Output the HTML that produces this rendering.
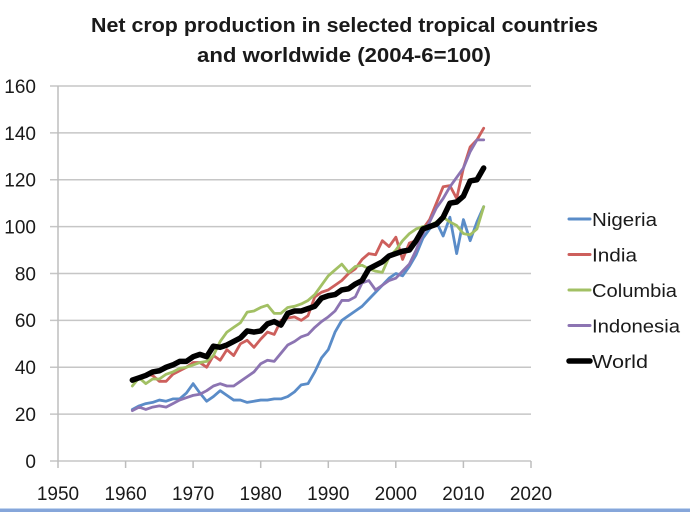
<!DOCTYPE html>
<html>
<head>
<meta charset="utf-8">
<style>
html,body{margin:0;padding:0;background:#fff;}
svg{display:block;}
text{font-family:"Liberation Sans",Arial,sans-serif;fill:#1a1a1a;}
</style>
</head>
<body>
<svg width="690" height="512" viewBox="0 0 690 512" xmlns="http://www.w3.org/2000/svg">
<rect width="690" height="512" fill="#fff"/>
<!-- title -->
<text x="91" y="32" font-size="20" font-weight="bold" textLength="507" lengthAdjust="spacingAndGlyphs">Net crop production in selected tropical countries</text>
<text x="197" y="62" font-size="20" font-weight="bold" textLength="294" lengthAdjust="spacingAndGlyphs">and worldwide (2004-6=100)</text>

<!-- gridlines -->
<g stroke="#c6c6c6" stroke-width="1.5">
<line x1="50" y1="86" x2="531" y2="86"/>
<line x1="50" y1="132.9" x2="531" y2="132.9"/>
<line x1="50" y1="179.75" x2="531" y2="179.75"/>
<line x1="50" y1="226.6" x2="531" y2="226.6"/>
<line x1="50" y1="273.5" x2="531" y2="273.5"/>
<line x1="50" y1="320.4" x2="531" y2="320.4"/>
<line x1="50" y1="367.25" x2="531" y2="367.25"/>
<line x1="50" y1="414.1" x2="531" y2="414.1"/>
<line x1="50" y1="461" x2="531" y2="461"/>
</g>
<g stroke="#bdbdbd" stroke-width="1.5">
<line x1="58" y1="86" x2="58" y2="461"/>
<line x1="58" y1="461" x2="58" y2="468"/>
<line x1="125.6" y1="461" x2="125.6" y2="468"/>
<line x1="193.1" y1="461" x2="193.1" y2="468"/>
<line x1="260.7" y1="461" x2="260.7" y2="468"/>
<line x1="328.3" y1="461" x2="328.3" y2="468"/>
<line x1="395.8" y1="461" x2="395.8" y2="468"/>
<line x1="463.4" y1="461" x2="463.4" y2="468"/>
<line x1="531" y1="461" x2="531" y2="468"/>
</g>

<!-- y labels -->
<g font-size="19" text-anchor="end">
<text x="36" y="93">160</text>
<text x="36" y="140">140</text>
<text x="36" y="186.5">120</text>
<text x="36" y="233.5">100</text>
<text x="36" y="280.5">80</text>
<text x="36" y="327">60</text>
<text x="36" y="374">40</text>
<text x="36" y="421">20</text>
<text x="36" y="468">0</text>
</g>
<!-- x labels -->
<g font-size="19" text-anchor="middle">
<text x="58" y="500">1950</text>
<text x="125.6" y="500">1960</text>
<text x="193.1" y="500">1970</text>
<text x="260.7" y="500">1980</text>
<text x="328.3" y="500">1990</text>
<text x="395.8" y="500">2000</text>
<text x="463.4" y="500">2010</text>
<text x="531" y="500">2020</text>
</g>

<!-- series -->
<g transform="translate(58,461) scale(6.757,-2.34375) translate(-1950,0)" fill="none" stroke-linejoin="round" stroke-linecap="round">
<polyline vector-effect="non-scaling-stroke" stroke="#5a8cc8" stroke-width="2.8" points="1961,22 1962,23.5 1963,24.5 1964,25 1965,26 1966,25.5 1967,26.5 1968,26.5 1969,29 1970,33 1971,29 1972,25.5 1973,27.5 1974,30 1975,28 1976,26 1977,26 1978,25 1979,25.5 1980,26 1981,26 1982,26.5 1983,26.5 1984,27.5 1985,29.5 1986,32.5 1987,33 1988,38 1989,44 1990,47.5 1991,55 1992,60 1993,62 1994,64 1995,66 1996,69 1997,72 1998,75 1999,78 2000,80 2001,79 2002,83 2003,88 2004,95 2005,99 2006,102 2007,96 2008,104 2009,88.5 2010,103 2011,94 2012,102 2013,108.5"/>
<polyline vector-effect="non-scaling-stroke" stroke="#cd5f5c" stroke-width="2.8" points="1961,34 1962,35 1963,37 1964,36.5 1965,34 1966,34 1967,37 1968,38.5 1969,40 1970,42 1971,42 1972,40 1973,45 1974,43 1975,47.5 1976,45 1977,50 1978,51.5 1979,48.5 1980,52 1981,55 1982,54 1983,60 1984,61 1985,61.5 1986,60 1987,62 1988,70 1989,72 1990,73 1991,75 1992,77 1993,80 1994,82 1995,86 1996,88.5 1997,88 1998,94 1999,91.5 2000,95.5 2001,86 2002,93 2003,94 2004,99 2005,103 2006,110 2007,117 2008,117.5 2009,112 2010,125 2011,134 2012,137 2013,142"/>
<polyline vector-effect="non-scaling-stroke" stroke="#a2c064" stroke-width="2.8" points="1961,32 1962,35.5 1963,33 1964,35 1965,35 1966,37 1967,38 1968,39.5 1969,40 1970,41 1971,42 1972,42.5 1973,45 1974,51 1975,55 1976,57 1977,59 1978,63.5 1979,64 1980,65.5 1981,66.5 1982,63 1983,63 1984,65.5 1985,66 1986,67 1987,68.5 1988,71 1989,75 1990,79 1991,81.5 1992,84 1993,80.5 1994,83 1995,83.5 1996,82 1997,81 1998,80.5 1999,87 2000,90 2001,94 2002,97 2003,99 2004,100 2005,100.5 2006,102 2007,104 2008,102 2009,100.5 2010,97 2011,96.5 2012,99 2013,108.5"/>
<polyline vector-effect="non-scaling-stroke" stroke="#8c74b2" stroke-width="2.8" points="1961,21.5 1962,23 1963,22 1964,23 1965,23.5 1966,23 1967,24.5 1968,26 1969,27 1970,28 1971,28.5 1972,30 1973,32 1974,33 1975,32 1976,32 1977,34 1978,36 1979,38 1980,41.5 1981,43 1982,42.5 1983,46 1984,49.5 1985,51 1986,53 1987,54 1988,57 1989,59.5 1990,61.5 1991,64 1992,68.5 1993,68.5 1994,70 1995,76 1996,77 1997,73 1998,75 1999,77 2000,78 2001,81 2002,84 2003,90 2004,97 2005,102 2006,108 2007,112 2008,117 2009,121 2010,125 2011,132 2012,137 2013,137"/>
<polyline vector-effect="non-scaling-stroke" stroke="#000" stroke-width="5.5" points="1961,34.5 1962,35.5 1963,36.5 1964,38 1965,38.5 1966,40 1967,41 1968,42.5 1969,42.5 1970,44.5 1971,45.5 1972,44.5 1973,49 1974,48.5 1975,49.5 1976,51 1977,52.5 1978,55.5 1979,55 1980,55.5 1981,58.5 1982,59.5 1983,58 1984,63 1985,64 1986,64 1987,65 1988,66 1989,69.5 1990,70.5 1991,71 1992,73 1993,73.5 1994,75.5 1995,77 1996,82 1997,83.5 1998,85 1999,87.5 2000,88.5 2001,89.5 2002,90 2003,94 2004,99 2005,100 2006,101 2007,104 2008,110 2009,110.5 2010,113 2011,119.5 2012,120 2013,125"/>
</g>

<!-- legend -->
<g stroke-linecap="round">
<line x1="569" y1="219" x2="590" y2="219" stroke="#5a8cc8" stroke-width="3"/>
<line x1="569" y1="254.5" x2="590" y2="254.5" stroke="#cd5f5c" stroke-width="3"/>
<line x1="569" y1="290" x2="590" y2="290" stroke="#a2c064" stroke-width="3"/>
<line x1="569" y1="325.5" x2="590" y2="325.5" stroke="#8c74b2" stroke-width="3"/>
<line x1="569" y1="361" x2="590" y2="361" stroke="#000" stroke-width="5.5"/>
</g>
<g font-size="18.5">
<text x="592" y="226" textLength="65" lengthAdjust="spacingAndGlyphs">Nigeria</text>
<text x="592" y="261.5" textLength="45" lengthAdjust="spacingAndGlyphs">India</text>
<text x="592" y="297" textLength="85" lengthAdjust="spacingAndGlyphs">Columbia</text>
<text x="592" y="332.5" textLength="88" lengthAdjust="spacingAndGlyphs">Indonesia</text>
<text x="592" y="368" textLength="56" lengthAdjust="spacingAndGlyphs">World</text>
</g>

<!-- bottom border -->
<rect x="0" y="508" width="690" height="1" fill="#c2d5ef"/>
<rect x="0" y="509" width="690" height="3" fill="#86a6da"/>
</svg>
</body>
</html>
